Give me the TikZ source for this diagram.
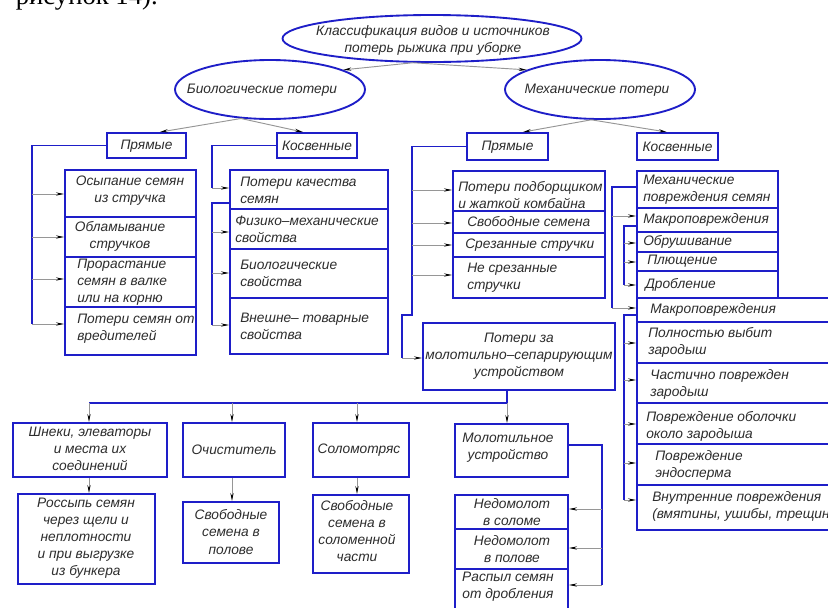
\documentclass[tikz,border=0pt]{standalone}
\usepackage{fontspec}
\setmainfont{Liberation Sans}
\newfontfamily\capfont{Liberation Serif}
\usetikzlibrary{arrows.meta,fit,shapes.geometric}
\definecolor{bl}{RGB}{30,30,200}
\definecolor{gl}{RGB}{150,150,150}
\definecolor{tx}{RGB}{45,45,45}
\newcommand\bx[5]{\node[box,fit={(#2,#3)(#4,#5)}] (#1) {};}
\newcommand\stubr[3]{\draw[arr] (#1,#2) -- (#3.west |- 0,#2);}
\newcommand\stubl[3]{\draw[arr] (#1,#2) -- (#3.east |- 0,#2);}
\newcommand\stubd[3]{\draw[arr] (#1,#2) -- (#3.north -| #1,0);}
\begin{document}
\begin{tikzpicture}[x=0.75pt,y=-0.75pt,
  box/.style={draw=bl,line width=1.4pt,inner sep=0pt},
  ell/.style={draw=bl,line width=1.4pt,ellipse,inner sep=0pt},
  bline/.style={draw=bl,line width=1.4pt},
  arr/.style={draw=gl,line width=0.7pt,-{Stealth[length=6pt,width=2.4pt,color=black]}},
  lt/.style={anchor=west,align=left,inner sep=0pt,text=tx,font=\fontsize{10.3}{12.8}\selectfont\itshape},
  ct/.style={anchor=center,align=center,inner sep=0pt,text=tx,font=\fontsize{10.3}{12.8}\selectfont\itshape}]
\useasboundingbox[fill=white] (0,0) rectangle (828,607);

% caption fragment
\node[anchor=base east,inner sep=0pt,font=\capfont\fontsize{20}{24}\selectfont] (cap) at (158,4) {рисунок 14).};

% ellipses
\node[ell,minimum width=224.25pt,minimum height=35.25pt] (top) at (432,38.5) {};
\node[ell,minimum width=142.5pt,minimum height=44.25pt] (bio) at (270,89.5) {};
\node[ell,minimum width=142.5pt,minimum height=44.25pt] (mech) at (600,89.5) {};
\node[ct] (topt) at (433,40) {Классификация видов и источников\\потерь рыжика при уборке};
\node[ct] (biot) at (262,90) {Биологические потери};
\node[ct] (mecht) at (597,90) {Механические потери};

% second level boxes
\bx{bP}{107}{133}{186}{158}
\bx{bK}{277}{133}{357}{158}
\bx{mP}{467}{133}{548}{160}
\bx{mK}{637}{133}{718}{160}
\node[ct] (bPt) at (146.5,146) {Прямые};
\node[ct] (bKt) at (317,146) {Косвенные};
\node[ct] (mPt) at (507.5,147) {Прямые};
\node[ct] (mKt) at (677.5,147) {Косвенные};

\draw[arr] (top.232) -- (bio.15);
\draw[arr] (top.232) -- (mech.165);
\draw[arr] (bio.225) -- ([xshift=10pt]bP.north);
\draw[arr] (bio.225) -- ([xshift=-10.5pt]bK.north);
\draw[arr] (mech.254) -- ([xshift=11.6pt]mP.north);
\draw[arr] (mech.254) -- ([xshift=-8pt]mK.north);

% biological direct
\bx{b1}{65}{170}{196}{217}
\bx{b2}{65}{217}{196}{257}
\bx{b3}{65}{257}{196}{307}
\bx{b4}{65}{307}{196}{355}
\node[ct] (b1t) at (130,191) {Осыпание семян\\из стручка};
\node[ct] (b2t) at (120,236) {Обламывание\\стручков};
\node[lt] (b3t) at (77,282) {Прорастание\\семян в валке\\или на корню};
\node[lt] (b4t) at (77,329) {Потери семян от\\вредителей};
\draw[bline] (bP.west) -| (32,324);
\stubr{32}{194}{b1}
\stubr{32}{237}{b2}
\stubr{32}{279}{b3}
\stubr{32}{324}{b4}

% biological indirect
\bx{k1}{230}{170}{388}{209}
\bx{k2}{230}{209}{388}{249}
\bx{k3}{230}{249}{388}{298}
\bx{k4}{230}{298}{388}{354}
\node[lt] (k1t) at (240,190) {Потери качества\\семян};
\node[lt] (k2t) at (235,229) {Физико–механические\\свойства};
\node[lt] (k3t) at (240,273) {Биологические\\свойства};
\node[lt] (k4t) at (240,326) {Внешне– товарные\\свойства};
\draw[bline] (bK.west) -| (212,188);
\stubr{212}{188}{k1}
\draw[bline] (k1.west |- 0,203) -| (212,325);
\stubr{212}{232}{k2}
\stubr{212}{273}{k3}
\stubr{212}{325}{k4}

% mechanical direct
\bx{p1}{453}{171}{605}{211}
\bx{p2}{453}{211}{605}{233}
\bx{p3}{453}{233}{605}{257}
\bx{p4}{453}{257}{605}{298}
\node[lt] (p1t) at (458,195) {Потери подборщиком\\и жаткой комбайна};
\node[lt] (p2t) at (467,222) {Свободные семена};
\node[lt] (p3t) at (465,245) {Срезанные стручки};
\node[lt] (p4t) at (467,278) {Не срезанные\\стручки};
\draw[bline] (mP.west) -| (412,315) -| (402,358);
\stubr{412}{190}{p1}
\stubr{412}{223}{p2}
\stubr{412}{245}{p3}
\stubr{412}{275}{p4}

\bx{pz}{423}{323}{615}{390}
\node[ct] (pzt) at (519,356) {Потери за\\молотильно–сепарирующим\\устройством};
\stubr{402}{358}{pz}

% mechanical indirect
\bx{c1}{637}{171}{778}{208}
\bx{c2}{637}{208}{778}{232}
\bx{c3}{637}{232}{778}{252}
\bx{c4}{637}{252}{778}{271}
\bx{c5}{637}{271}{778}{298}
\bx{w1}{637}{298}{845}{322}
\bx{w2}{637}{322}{845}{363}
\bx{w3}{637}{363}{845}{403}
\bx{w4}{637}{403}{845}{444}
\bx{w5}{637}{444}{845}{485}
\bx{w6}{637}{485}{845}{530}
\node[lt] (c1t) at (643,190) {Механические\\повреждения семян};
\node[lt] (c2t) at (643,220) {Макроповреждения};
\node[lt] (c3t) at (643,242) {Обрушивание};
\node[lt] (c4t) at (647,261.5) {Плющение};
\node[lt] (c5t) at (645,285) {Дробление};
\node[lt] (w1t) at (650,310) {Макроповреждения};
\node[lt] (w2t) at (648,342) {Полностью выбит\\зародыш};
\node[lt] (w3t) at (650,384) {Частично поврежден\\зародыш};
\node[lt] (w4t) at (646,426) {Повреждение оболочки\\около зародыша};
\node[lt] (w5t) at (655,465) {Повреждение\\эндосперма};
\node[lt] (w6t) at (652,506) {Внутренние повреждения\\(вмятины, ушибы, трещины)};
\draw[bline] (c1.west |- 0,187) -| (612,308);
\stubr{612}{216}{c2}
\stubr{612}{308}{w1}
\draw[bline] (c2.west |- 0,226) -| (624,285);
\stubr{624}{243}{c3}
\stubr{624}{262}{c4}
\stubr{624}{285}{c5}
\draw[bline] (w1.west |- 0,315) -| (624,500);
\stubr{624}{343}{w2}
\stubr{624}{380}{w3}
\stubr{624}{424}{w4}
\stubr{624}{463}{w5}
\stubr{624}{500}{w6}

% bottom row
\bx{s1}{13}{423}{167}{477}
\bx{r1}{18}{494}{155}{584}
\bx{s2}{183}{423}{285}{477}
\bx{r2}{183}{502}{279}{563}
\bx{s3}{313}{423}{409}{477}
\bx{r3}{313}{495}{409}{573}
\bx{s4}{455}{424}{568}{477}
\bx{n1}{455}{495}{568}{529}
\bx{n2}{455}{529}{568}{569}
\bx{n3}{455}{569}{568}{615}
\node[ct] (s1t) at (90,449) {Шнеки, элеваторы\\и места их\\соединений};
\node[ct] (r1t) at (86,538) {Россыпь семян\\через щели и\\неплотности\\и при выгрузке\\из бункера};
\node[ct] (s2t) at (234,450) {Очиститель};
\node[ct] (r2t) at (231,532) {Свободные\\семена в\\полове};
\node[ct] (s3t) at (359,450) {Соломотряс};
\node[ct] (r3t) at (357,531) {Свободные\\семена в\\соломенной\\части};
\node[ct] (s4t) at (508,448) {Молотильное\\устройство};
\node[ct] (n1t) at (512,512) {Недомолот\\в соломе};
\node[ct] (n2t) at (512,549) {Недомолот\\в полове};
\node[ct] (n3t) at (508,587) {Распыл семян\\от дробления};

\draw[bline] (pz.south -| 507,0) -- (507,403);
\draw[bline] (89,403) -- (507,403);
\stubd{89}{403}{s1}
\stubd{232}{403}{s2}
\stubd{357}{403}{s3}
\stubd{507}{403}{s4}
\draw[arr] (s1.south -| 89,0) -- (r1.north -| 89,0);
\draw[arr] (s2.south -| 232,0) -- (r2.north -| 232,0);
\draw[arr] (s3.south -| 357,0) -- (r3.north -| 357,0);

\draw[bline] (s4.east |- 0,445) -| (602,585);
\stubl{602}{509}{n1}
\stubl{602}{548}{n2}
\stubl{602}{585}{n3}
\end{tikzpicture}
\end{document}
